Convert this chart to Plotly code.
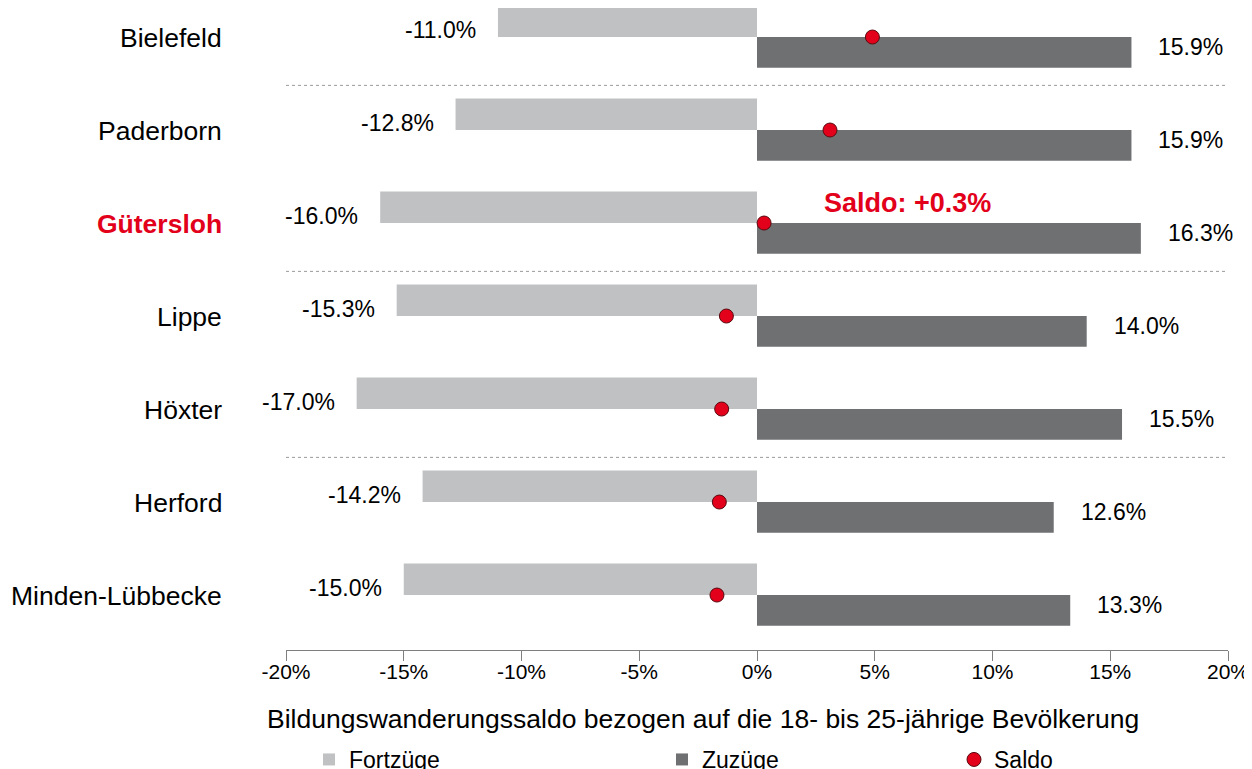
import plotly.graph_objects as go

categories = ["Bielefeld", "Paderborn", "Gütersloh", "Lippe", "Höxter", "Herford", "Minden-Lübbecke"]
fortzuege = [-11.0, -12.8, -16.0, -15.3, -17.0, -14.2, -15.0]
zuzuege = [15.9, 15.9, 16.3, 14.0, 15.5, 12.6, 13.3]
saldo = [4.9, 3.1, 0.3, -1.3, -1.5, -1.6, -1.7]
highlight = "Gütersloh"
separators_after = ["Bielefeld", "Gütersloh", "Höxter"]
x_ticks = [-20, -15, -10, -5, 0, 5, 10, 15, 20]
x_title = "Bildungswanderungssaldo bezogen auf die 18- bis 25-jährige Bevölkerung"

LIGHT = "#c0c1c2"
DARK = "#6f7072"
RED = "#e2001a"
FONT = "Liberation Sans, Arial, sans-serif"

PLOT_W = 942  # plot width in px (for paper-coordinate text placement)
PLOT_H = 642

pos = list(range(len(categories)))

fig = go.Figure()
fig.add_trace(go.Bar(
    y=pos, x=fortzuege, orientation="h", name="Fortzüge",
    marker=dict(color=LIGHT, line=dict(width=0)),
    width=0.34, offset=-0.34, hoverinfo="x", legendwidth=308,
))
fig.add_trace(go.Bar(
    y=pos, x=zuzuege, orientation="h", name="Zuzüge",
    marker=dict(color=DARK, line=dict(width=0)),
    width=0.33, offset=0, hoverinfo="x", legendwidth=247,
))
fig.add_trace(go.Scatter(
    y=pos, x=saldo, mode="markers", name="Saldo",
    marker=dict(color=RED, size=14, line=dict(color="#5a0a10", width=1)),
    hoverinfo="x",
))

annotations = []
for i, c in enumerate(categories):
    is_hl = c == highlight
    annotations.append(dict(
        x=-62 / PLOT_W, xref="paper", y=i, yref="y", yshift=-1,
        text=f"<b>{c}</b>" if is_hl else c, showarrow=False, xanchor="right",
        font=dict(size=26.5, color=RED if is_hl else "#000000", family=FONT),
    ))
    annotations.append(dict(
        x=fortzuege[i], y=i - 0.08, xref="x", yref="y", xshift=-20,
        text=f"{fortzuege[i]:.1f}%", showarrow=False, xanchor="right",
        font=dict(size=23, color="#000000", family=FONT),
    ))
    annotations.append(dict(
        x=zuzuege[i], y=i + 0.11, xref="x", yref="y", xshift=25,
        text=f"{zuzuege[i]:.1f}%", showarrow=False, xanchor="left",
        font=dict(size=23, color="#000000", family=FONT),
    ))
    if is_hl:
        annotations.append(dict(
            x=saldo[i], y=i - 0.22, xref="x", yref="y", xshift=58,
            text=f"<b>Saldo: {saldo[i]:+.1f}%</b>", showarrow=False, xanchor="left",
            font=dict(size=27, color=RED, family=FONT),
        ))

annotations.append(dict(
    x=(703 - 286) / PLOT_W, xref="paper", y=-69 / PLOT_H, yref="paper",
    text=x_title, showarrow=False, xanchor="center", yanchor="middle",
    font=dict(size=26.5, color="#000000", family=FONT),
))

shapes = []
for c in separators_after:
    i = categories.index(c)
    shapes.append(dict(
        type="line", xref="paper", yref="y", x0=0, x1=1, y0=i + 0.52, y1=i + 0.52,
        line=dict(color="#9a9a9a", width=1, dash="dot"),
    ))

fig.update_layout(
    width=1244, height=761,
    margin=dict(l=278, r=24, t=0, b=119, autoexpand=False),
    paper_bgcolor="white", plot_bgcolor="white",
    font=dict(family=FONT, color="#000000"),
    barmode="overlay",
    showlegend=True,
    legend=dict(
        orientation="h", x=23 / PLOT_W, xanchor="left", y=-88 / PLOT_H, yanchor="top",
        font=dict(size=23, family=FONT),
        bgcolor="rgba(0,0,0,0)", traceorder="normal",
    ),
    annotations=annotations,
    shapes=shapes,
    xaxis=dict(
        range=[-20, 20], tickvals=x_ticks, ticktext=[f"{v}%" for v in x_ticks],
        showgrid=False, zeroline=False, showline=True, linecolor="#7f7f7f", linewidth=1,
        ticks="outside", ticklen=10, tickcolor="#7f7f7f",
        tickfont=dict(size=21, family=FONT), ticklabeloverflow="allow",
        ticklabelstandoff=-7,
    ),
    yaxis=dict(
        range=[6.591, -0.312], showgrid=False, zeroline=False, showline=False,
        showticklabels=False, ticks="",
    ),
)

fig.write_html("out.html")
